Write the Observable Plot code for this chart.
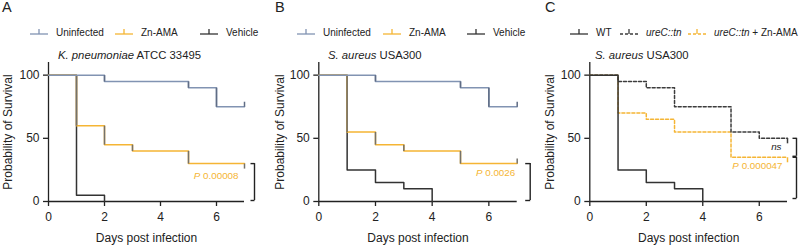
<!DOCTYPE html>
<html><head><meta charset="utf-8">
<script src="https://cdn.jsdelivr.net/npm/d3@7"></script>
<script src="https://cdn.jsdelivr.net/npm/@observablehq/plot@0.6"></script>
<style>
html,body{margin:0;padding:0;background:#fff;}
#root{position:relative;width:800px;height:249px;overflow:hidden;font-family:"Liberation Sans",Arial,sans-serif;color:#222;}
.panel{position:absolute;top:0;height:249px;}
.panel svg.plot{position:absolute;left:0;top:0;}
.letter{position:absolute;font-size:14.5px;top:-1px;line-height:16px;}
.title{position:absolute;top:49px;font-size:11.3px;white-space:nowrap;line-height:13px;}
.leg{position:absolute;top:26px;height:12px;font-size:10px;display:flex;align-items:center;white-space:nowrap;}
.leg svg{margin-right:8px;}
</style></head><body><div id="root"></div>
<script>
// ---- data ----
const days = [0, 1, 2, 3, 4, 5, 6, 7];
const xTicks = [0, 2, 4, 6];
const yTicks = [0, 50, 100];
const xLabel = "Days post infection";
const yLabel = "Probability of Survival";

const aUninfected = [100, 100, 95, 95, 95, 90, 75, 75];
const aZnAMA      = [100, 60, 45, 40, 40, 30, 30, 30];
const aVehicle    = [100, 5, 0, null, null, null, null, null];

const bUninfected = [100, 100, 95, 95, 95, 90, 75, 75];
const bZnAMA      = [100, 55, 45, 40, 40, 30, 30, 30];
const bVehicle    = [100, 25, 15, 10, 0, null, null, null];

const cWT         = [100, 25, 15, 10, 0, null, null, null];
const cUreC       = [100, 95, 90, 75, 75, 55, 50, 50];
const cUreCZn     = [100, 70, 65, 55, 55, 35, 35, 35];

const legendA = ["Uninfected", "Zn-AMA", "Vehicle"];
const legendB = ["Uninfected", "Zn-AMA", "Vehicle"];
const legendC = ["WT", "ureC::tn", "ureC::tn + Zn-AMA"];
const titleA = ["K. pneumoniae", "ATCC 33495"];
const titleB = ["S. aureus", "USA300"];
const titleC = ["S. aureus", "USA300"];
const pA = "P 0.00008", pB = "P 0.0026", pC = "P 0.000047", nsC = "ns";
const letters = ["A", "B", "C"];

// ---- styles ----
const BLUE = "#8193b2", BLUE_D = "#5f6c84", ORANGE = "#f5b534", ORANGE_D = "#75726a", DARK = "#333", DARK2 = "#3c3c3c";
const lastDay = days[days.length - 1];

function rows(v) { return days.map((d, i) => ({x: d, y: v[i]})).filter(r => r.y != null); }
function drops(v) {
  const out = [];
  for (let i = 1; i < days.length; i++) if (v[i] != null && v[i - 1] != null && v[i] !== v[i - 1]) out.push({x: days[i], y1: v[i - 1], y2: v[i]});
  return out;
}
function lastVal(v) { const r = rows(v); return r[r.length - 1]; }
const vSym = len => ({draw(ctx) { ctx.moveTo(0, 0); ctx.lineTo(0, len); }});
const hSym = len => ({draw(ctx) { ctx.moveTo(-len, 0); ctx.lineTo(0, 0); }});

function seriesMarks(s) {
  const m = [Plot.line(rows(s.values), {x: "x", y: "y", curve: "step-after", stroke: s.color, strokeWidth: 1.5, strokeDasharray: s.dash})];
  if (s.dropColor) m.push(Plot.link(drops(s.values), {x1: "x", x2: "x", y1: "y1", y2: "y2", stroke: s.dropColor, strokeWidth: 1.5}));
  const L = lastVal(s.values);
  if (L.x === lastDay && s.tick) m.push(Plot.dot([L], {x: "x", y: "y", symbol: vSym(s.tick), stroke: s.dropColor || s.color, fill: "none", strokeWidth: 1.5}));
  return m;
}
function bracketMarks(vTop, vBot, dx, foot, inset) {
  const yT = lastVal(vTop).y, yB = lastVal(vBot).y;
  const common = {x: "x", y: "y", dx, symbol: hSym(foot), stroke: "#222", fill: "none", strokeWidth: 1.4};
  return [
    Plot.ruleX([{x: lastDay, y1: yT, y2: yB}], {x: "x", y1: "y1", y2: "y2", dx, stroke: "#222", strokeWidth: 1.4, insetBottom: inset}),
    Plot.dot([{x: lastDay, y: yT}], common),
    Plot.dot([{x: lastDay, y: yB}], {...common, dy: -inset})
  ];
}
function label(text, v, color, dx, dy, italic) {
  return Plot.text([lastVal(v)], {x: "x", y: "y", text: () => text, dx, dy, textAnchor: "end", fill: color, fontSize: 9.8, fontStyle: italic ? "italic" : null});
}
function axes(yLabelOffset) {
  return [
    Plot.ruleX([0], {stroke: "#222", strokeWidth: 1.3}),
    Plot.ruleY([0], {stroke: "#222", strokeWidth: 1.3}),
    Plot.axisX({ticks: xTicks, tickFormat: "d", tickSize: 5, tickPadding: 6, fontSize: 12, label: xLabel, labelAnchor: "center", labelArrow: "none", labelOffset: 40, stroke: "#222", strokeWidth: 1.3}),
    Plot.axisY({ticks: yTicks, tickFormat: "d", tickSize: 5, tickPadding: 4, fontSize: 12, label: yLabel, labelAnchor: "center", labelArrow: "none", labelOffset: yLabelOffset, stroke: "#222", strokeWidth: 1.3})
  ];
}

function makePanel(cfg) {
  const root = document.getElementById("root");
  const div = document.createElement("div");
  div.className = "panel";
  div.style.left = cfg.left + "px";
  div.style.width = cfg.width + "px";
  root.appendChild(div);

  const svg = Plot.plot({
    width: cfg.width, height: 249,
    marginLeft: cfg.ml, marginRight: cfg.mr, marginTop: 62, marginBottom: 48,
    x: {domain: [days[0], lastDay]},
    y: {domain: [0, 110]},
    style: {fontFamily: "'Liberation Sans', Arial, sans-serif", color: "#222", background: "transparent", overflow: "visible"},
    marks: [...axes(cfg.ylo), ...cfg.series.flatMap(seriesMarks), ...cfg.extra]
  });
  svg.querySelectorAll("text").forEach(t => {
    const s = t.textContent;
    if (/^P /.test(s) && t.children.length === 0) {
      t.textContent = "";
      const a = document.createElementNS("http://www.w3.org/2000/svg", "tspan");
      a.setAttribute("font-style", "italic"); a.textContent = "P";
      const b = document.createElementNS("http://www.w3.org/2000/svg", "tspan");
      b.textContent = s.slice(1);
      t.appendChild(a); t.appendChild(b);
    }
  });
  div.appendChild(svg);

  const letter = document.createElement("div");
  letter.className = "letter"; letter.textContent = cfg.letter; letter.style.left = cfg.letterX + "px";
  div.appendChild(letter);

  const title = document.createElement("div");
  title.className = "title"; title.style.left = cfg.titleX + "px";
  const ti = document.createElement("i"); ti.textContent = cfg.title[0];
  title.appendChild(ti); title.appendChild(document.createTextNode(" " + cfg.title[1]));
  div.appendChild(title);

  cfg.legend.forEach((lab, i) => {
    const st = cfg.series[cfg.legendOrder[i]];
    const item = document.createElement("div");
    item.className = "leg"; item.style.left = cfg.legendX[i] + "px";
    item.innerHTML = `<svg width="18" height="10"><line x1="0" x2="18" y1="7" y2="7" stroke="${st.color}" stroke-width="1.3" ${st.dash ? `stroke-dasharray="${st.dash}"` : ""}/><line x1="9" x2="9" y1="7" y2="2" stroke="${st.color}" stroke-width="1.3"/></svg>`;
    const span = document.createElement("span");
    span.innerHTML = lab.replace(/ureC::tn/g, "<i>ureC::tn</i>");
    item.appendChild(span);
    div.appendChild(item);
  });
}

// Panel A
const sAU = {values: aUninfected, color: BLUE, dropColor: BLUE_D, tick: -5};
const sAZ = {values: aZnAMA, color: ORANGE, dropColor: ORANGE_D, tick: 5};
const sAV = {values: aVehicle, color: DARK};
makePanel({
  left: 0, width: 266, ml: 48, mr: 22, ylo: 45, letter: letters[0], letterX: 2, titleX: 58, title: titleA,
  series: [sAV, sAZ, sAU], legend: legendA, legendOrder: [2, 1, 0], legendX: [30, 115, 200],
  extra: [...bracketMarks(aZnAMA, aVehicle, 10, 4, 1), label(pA, aZnAMA, ORANGE, -6, 12)]
});
// Panel B
const sBU = {values: bUninfected, color: BLUE, dropColor: BLUE_D, tick: -5};
const sBZ = {values: bZnAMA, color: ORANGE, dropColor: ORANGE_D, tick: -5};
const sBV = {values: bVehicle, color: DARK};
makePanel({
  left: 266, width: 266, ml: 52.3, mr: 15.3, ylo: 43, letter: letters[1], letterX: 9, titleX: 62, title: titleB,
  series: [sBV, sBZ, sBU], legend: legendB, legendOrder: [2, 1, 0], legendX: [31, 117, 201],
  extra: [...bracketMarks(bZnAMA, bVehicle, 13, 5, 1), label(pB, bZnAMA, ORANGE, -2, 9)]
});
// Panel C
const sCZ = {values: cUreCZn, color: ORANGE, dash: "3,2", tick: 5};
const sCU = {values: cUreC, color: DARK2, dash: "3,2", tick: 5};
const sCW = {values: cWT, color: DARK};
makePanel({
  left: 532, width: 268, ml: 57.3, mr: 13, ylo: 44, letter: letters[2], letterX: 13, titleX: 63, title: titleC,
  series: [sCZ, sCU, sCW], legend: legendC, legendOrder: [2, 1, 0], legendX: [38, 88, 156],
  extra: [...bracketMarks(cUreC, cUreCZn, 9, 4, 1), ...bracketMarks(cUreCZn, cWT, 9, 4, 3),
          label(pC, cUreCZn, ORANGE, -5, 9), label(nsC, cUreC, "#222", -6, 9, true)]
});
</script></body></html>
